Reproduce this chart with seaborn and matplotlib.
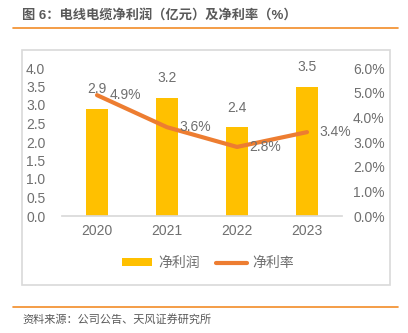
import numpy as np
import pandas as pd
import matplotlib
matplotlib.use("Agg")
import matplotlib.pyplot as plt
from matplotlib.lines import Line2D
from matplotlib.patches import Rectangle, Patch
import seaborn as sns

years = ["2020", "2021", "2022", "2023"]
net_profit = [2.9, 3.2, 2.4, 3.5]          # 亿元
net_margin = [4.9, 3.6, 2.8, 3.4]          # %
left_ticks = [0.0, 0.5, 1.0, 1.5, 2.0, 2.5, 3.0, 3.5, 4.0]
right_ticks = [0, 1, 2, 3, 4, 5, 6]

title = "图 6：电线电缆净利润（亿元）及净利率（%）"
source = "资料来源：公司公告、天风证券研究所"
bar_name = "净利润"
line_name = "净利率"

sns.set_theme(style="white")
plt.rcParams["font.family"] = ["Liberation Sans", "Noto Sans CJK SC", "DejaVu Sans"]

BAR_C = "#FFC000"
LINE_C = "#ED7D31"
TXT_C = "#595959"
TICK_C = "#6F6F6F"
RULE_C = "#F28C28"
FRAME_C = "#D9D9D9"

fig = plt.figure(figsize=(4.08, 3.33), dpi=100)
ax = fig.add_axes([62/408, 1-216/333, 280/408, 148/333])

df = pd.DataFrame({"year": years, "profit": net_profit, "margin": net_margin})
sns.barplot(data=df, x="year", y="profit", color=BAR_C, width=0.32, ax=ax,
            saturation=1, edgecolor="none")
ax.set_ylim(0, 4.0)
ax.set_xlim(-0.5, 3.5)
ax.set_yticks(left_ticks)
ax.set_yticklabels([f"{t:.1f}" for t in left_ticks])
ax.set_xlabel("")
ax.set_ylabel("")
for s in ["left", "right", "top"]:
    ax.spines[s].set_visible(False)
ax.spines["bottom"].set_color(FRAME_C)
ax.tick_params(axis="both", length=0, colors=TICK_C, labelsize=10)
ax.tick_params(axis="y", pad=12)
ax.tick_params(axis="x", pad=6)

for i, v in enumerate(net_profit):
    ax.annotate(f"{v:.1f}", (i, v), xytext=(0, 9), textcoords="offset points",
                ha="center", va="bottom", color=TICK_C, fontsize=10)

ax2 = ax.twinx()
sns.lineplot(x=np.arange(len(years)), y=net_margin, color=LINE_C, lw=3, ax=ax2)
ax2.set_ylim(0, 6)
ax2.set_yticks(right_ticks)
ax2.set_yticklabels([f"{t:.1f}%" for t in right_ticks])
for s in ["left", "right", "top", "bottom"]:
    ax2.spines[s].set_visible(False)
ax2.tick_params(axis="y", length=0, colors=TICK_C, labelsize=10, pad=8)
for i, v in enumerate(net_margin):
    ax2.annotate(f"{v:.1f}%", (i, v), xytext=(9, 0), textcoords="offset points",
                 ha="left", va="center", color=TICK_C, fontsize=10)

handles = [Patch(facecolor=BAR_C, edgecolor="none"),
           Line2D([0], [0], color=LINE_C, lw=3)]
fig.legend(handles, [bar_name, line_name], loc="center", bbox_to_anchor=(208/408, 1-263/333),
           ncol=2, frameon=False, fontsize=10, handlelength=2.2, handleheight=0.45,
           columnspacing=1.2, handletextpad=0.4, labelcolor=TICK_C)

fig.patches.append(Rectangle((22/408, 1-285/333), 368/408, 235/333, transform=fig.transFigure,
                             fill=False, edgecolor=FRAME_C, lw=1.2))
fig.add_artist(Line2D([13/408, 398/408], [1-28/333, 1-28/333], color=RULE_C, lw=1.2,
                      transform=fig.transFigure))
fig.add_artist(Line2D([13/408, 398/408], [1-307/333, 1-307/333], color=RULE_C, lw=1.2,
                      transform=fig.transFigure))
fig.text(22/408, 1-15/333, title, fontsize=9.5, fontweight="bold", color=TXT_C,
         ha="left", va="center")
fig.text(22/408, 1-319/333, source, fontsize=8, color=TXT_C, ha="left", va="center")

fig.savefig("out.png", dpi=100, facecolor="white")
